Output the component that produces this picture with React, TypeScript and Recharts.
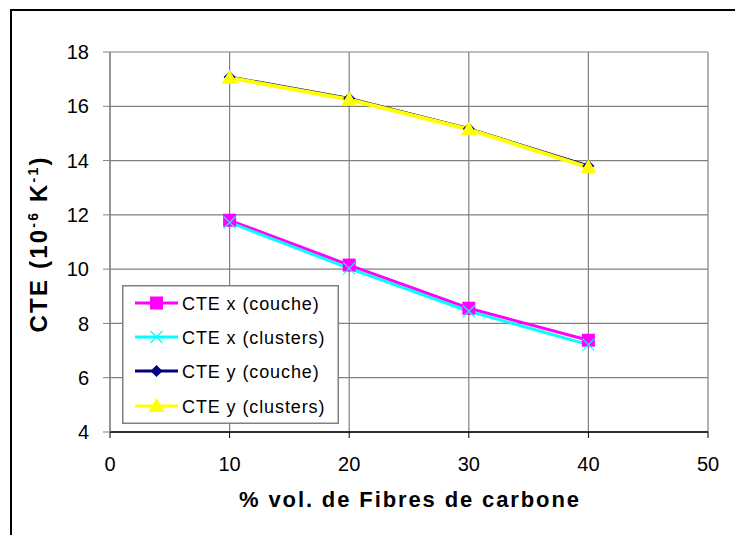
import React from 'react';
import { LineChart, Line, XAxis, YAxis, CartesianGrid, Legend } from 'recharts';

const fibres = [10, 20, 30, 40];
const cteXCouche = [11.8, 10.15, 8.56, 7.38];
const cteXClusters = [11.72, 10.03, 8.45, 7.22];
const cteYCouche = [17.08, 16.29, 15.17, 13.8];
const cteYClusters = [17.05, 16.25, 15.15, 13.75];
const xTicks = [0, 10, 20, 30, 40, 50];
const yTicks = [4, 6, 8, 10, 12, 14, 16, 18];

const seriesKeys = ['xc', 'xk', 'yc', 'yk'];
const seriesNames: Record<string, string> = {
  xc: 'CTE x (couche)',
  xk: 'CTE x (clusters)',
  yc: 'CTE y (couche)',
  yk: 'CTE y (clusters)',
};

const data = fibres.map((f, i) => ({
  f,
  xc: cteXCouche[i],
  xk: cteXClusters[i],
  yc: cteYCouche[i],
  yk: cteYClusters[i],
}));

const colors: Record<string, string> = {
  xc: '#ff00ff',
  xk: '#00ffff',
  yc: '#000080',
  yk: '#ffff00',
};

const FONT = '"Liberation Sans", Arial, sans-serif';

function Marker({ kind, cx, cy }: { kind: string; cx: number; cy: number }) {
  const c = colors[kind];
  if (kind === 'xc') {
    return <rect x={cx - 6.5} y={cy - 6.5} width={13} height={13} fill={c} />;
  }
  if (kind === 'xk') {
    return (
      <g stroke={c} strokeWidth={1.2}>
        <line x1={cx - 6} y1={cy - 6} x2={cx + 6} y2={cy + 6} />
        <line x1={cx - 6} y1={cy + 6} x2={cx + 6} y2={cy - 6} />
      </g>
    );
  }
  if (kind === 'yc') {
    return <polygon points={`${cx},${cy - 6} ${cx + 6},${cy} ${cx},${cy + 6} ${cx - 6},${cy}`} fill={c} />;
  }
  return <polygon points={`${cx},${cy - 8} ${cx + 8},${cy + 6} ${cx - 8},${cy + 6}`} fill={c} />;
}

const makeDot = (kind: string) => (props: any) => {
  const { cx, cy, index } = props;
  if (cx == null || cy == null) return <g key={`${kind}-${index}`} />;
  return (
    <g key={`${kind}-${index}`}>
      <Marker kind={kind} cx={cx} cy={cy} />
    </g>
  );
};

const LegendBox = (props: any) => {
  const payload = [...(props.payload || [])].sort(
    (a: any, b: any) => seriesKeys.indexOf(a.dataKey) - seriesKeys.indexOf(b.dataKey)
  );
  const rows = [18, 52, 86, 121];
  return (
    <svg width={217} height={139} style={{ display: 'block' }}>
      <rect x={0.75} y={0.75} width={215.5} height={137.5} fill="#fff" stroke="#808080" strokeWidth={1.5} />
      {payload.map((p: any, i: number) => {
        const k = p.dataKey as string;
        const y = rows[i];
        return (
          <g key={k}>
            <line x1={13} y1={y} x2={56} y2={y} stroke={colors[k]} strokeWidth={3} />
            <Marker kind={k} cx={34.5} cy={y} />
            <text x={60} y={y + 6.5} fontFamily={FONT} fontSize={18} letterSpacing={0.9} fill="#000">
              {p.value}
            </text>
          </g>
        );
      })}
    </svg>
  );
};

const YLabel = () => {
  const cx = 47;
  const cy = 245;
  return (
    <text
      x={cx}
      y={cy}
      transform={`rotate(-90 ${cx} ${cy})`}
      textAnchor="middle"
      fontFamily={FONT}
      fontWeight="bold"
      fontSize={24}
      textLength={175}
      lengthAdjust="spacing"
      fill="#000"
    >
      CTE (10
      <tspan dy={-9} fontSize={14}>-6</tspan>
      <tspan dy={9}> K</tspan>
      <tspan dy={-9} fontSize={14}>-1</tspan>
      <tspan dy={9}>)</tspan>
    </text>
  );
};

const XLabel = (props: any) => {
  const vb = props.viewBox || { x: 110, y: 432, width: 598, height: 103 };
  const cx = vb.x + vb.width / 2;
  return (
    <text
      x={cx}
      y={507}
      textAnchor="middle"
      fontFamily={FONT}
      fontWeight="bold"
      fontSize={22}
      textLength={340}
      lengthAdjust="spacing"
      fill="#000"
    >
      % vol. de Fibres de carbone
    </text>
  );
};

export default function App() {
  return (
    <div
      style={{
        position: 'absolute',
        left: 0,
        top: 0,
        width: 735,
        height: 535,
        overflow: 'hidden',
        background: '#fff',
      }}
    >
      <div
        style={{
          position: 'absolute',
          left: 10,
          top: 9,
          width: 800,
          height: 600,
          borderLeft: '2px solid #000',
          borderTop: '2px solid #000',
        }}
      />
      <div style={{ position: 'absolute', left: 0, top: 0 }}>
        <LineChart
          width={735}
          height={535}
          data={data}
          margin={{ top: 52, right: 27, bottom: 0, left: 0 }}
        >
          <CartesianGrid stroke="#808080" strokeWidth={1.2} />
          <XAxis
            dataKey="f"
            type="number"
            domain={[0, 50]}
            ticks={xTicks}
            height={103}
            tickSize={6}
            tickMargin={19}
            axisLine={{ stroke: '#000', strokeWidth: 1.5 }}
            tickLine={{ stroke: '#000' }}
            tick={{ fill: '#000', fontSize: 20, fontFamily: FONT }}
            label={{ content: (p: any) => <XLabel {...p} /> }}
          />
          <YAxis
            type="number"
            domain={[4, 18]}
            ticks={yTicks}
            width={110}
            tickSize={7}
            tickMargin={14}
            axisLine={{ stroke: '#808080', strokeWidth: 1.2 }}
            tickLine={{ stroke: '#808080' }}
            tick={{ fill: '#000', fontSize: 20, fontFamily: FONT }}
            label={{ content: () => <YLabel /> }}
          />
          <Legend
            layout="vertical"
            align="center"
            verticalAlign="middle"
            content={<LegendBox />}
            wrapperStyle={{ position: 'absolute', left: 122, top: 285, width: 217, height: 139 }}
          />
          <Line
            dataKey="xc"
            name={seriesNames.xc}
            stroke={colors.xc}
            strokeWidth={3}
            dot={makeDot('xc')}
            activeDot={false}
            isAnimationActive={false}
          />
          <Line
            dataKey="xk"
            name={seriesNames.xk}
            stroke={colors.xk}
            strokeWidth={3}
            dot={makeDot('xk')}
            activeDot={false}
            isAnimationActive={false}
          />
          <Line
            dataKey="yc"
            name={seriesNames.yc}
            stroke={colors.yc}
            strokeWidth={3}
            dot={makeDot('yc')}
            activeDot={false}
            isAnimationActive={false}
          />
          <Line
            dataKey="yk"
            name={seriesNames.yk}
            stroke={colors.yk}
            strokeWidth={4}
            dot={makeDot('yk')}
            activeDot={false}
            isAnimationActive={false}
          />
        </LineChart>
      </div>
    </div>
  );
}
